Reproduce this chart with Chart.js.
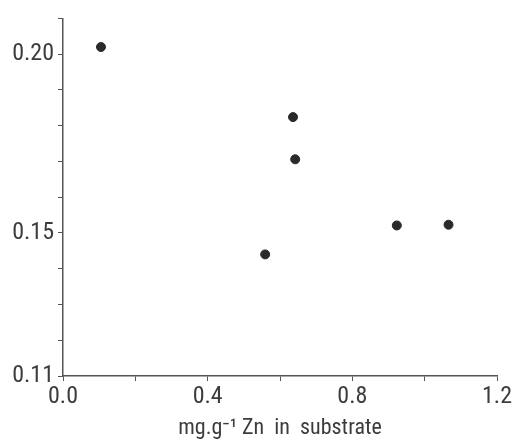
<!DOCTYPE html>
<html>
<head>
<meta charset="utf-8">
<script src="https://cdn.jsdelivr.net/npm/chart.js@4/dist/chart.umd.min.js"></script>
<style>
  html, body { margin: 0; padding: 0; background: #fff; }
</style>
</head>
<body>
<canvas id="znChart" width="525" height="442"></canvas>
<script>
// Zn in substrate (mg/g) vs response
const znLevels = [0.105, 0.636, 0.642, 0.559, 0.923, 1.066];
const responses = [0.202, 0.1824, 0.1706, 0.1440, 0.1521, 0.1523];
const xTickLabels = { 0: '0.0', 4: '0.4', 8: '0.8', 12: '1.2' };
const yTickLabels = { 20: '0.20', 15: '0.15', 11: '0.11' };

const points = znLevels.map((x, i) => ({ x: x, y: responses[i] }));

const inkColor = '#3c3c3c';
const labelFont = { family: "'Liberation Sans Narrow', 'Roboto Condensed', 'DejaVu Sans Condensed', sans-serif", size: 24 };

document.addEventListener("DOMContentLoaded", function () {
  const ctx = document.getElementById('znChart').getContext('2d');
  new Chart(ctx, {
    type: 'scatter',
    data: {
      datasets: [{
        data: points,
        backgroundColor: '#2a2a2a',
        borderColor: '#2a2a2a',
        pointRadius: 4.5,
        pointHoverRadius: 4.5
      }]
    },
    options: {
      responsive: false,
      animation: false,
      layout: { padding: { top: 13, right: 28, left: 0, bottom: 0 } },
      plugins: {
        legend: { display: false },
        tooltip: { enabled: false }
      },
      scales: {
        x: {
          type: 'linear',
          min: 0,
          max: 1.2,
          border: { color: '#555', width: 1.5 },
          grid: { drawOnChartArea: false, drawTicks: true, tickLength: 5, tickColor: '#555' },
          ticks: {
            stepSize: 0.2,
            autoSkip: false,
            maxRotation: 0,
            padding: 2,
            color: inkColor,
            font: labelFont,
            callback: function (v) {
              const k = Math.round(v * 10);
              return xTickLabels[k] !== undefined ? xTickLabels[k] : '';
            }
          },
          title: {
            display: true,
            text: 'mg.g\u207B\u00B9 Zn  in  substrate',
            color: inkColor,
            font: { family: labelFont.family, size: 22 },
            padding: { top: 0, bottom: 0 }
          },
          afterFit: function (scale) { scale.height = 66; }
        },
        y: {
          type: 'linear',
          min: 0.11,
          max: 0.21,
          border: { color: '#555', width: 1.5 },
          grid: { drawOnChartArea: false, drawTicks: true, tickLength: 5, tickColor: '#555' },
          ticks: {
            stepSize: 0.01,
            autoSkip: false,
            padding: 4,
            color: inkColor,
            font: labelFont,
            callback: function (v) {
              const k = Math.round(v * 100);
              return yTickLabels[k] !== undefined ? yTickLabels[k] : '';
            }
          },
          afterFit: function (scale) { scale.width = 63; }
        }
      }
    }
  });
});
</script>
</body>
</html>
